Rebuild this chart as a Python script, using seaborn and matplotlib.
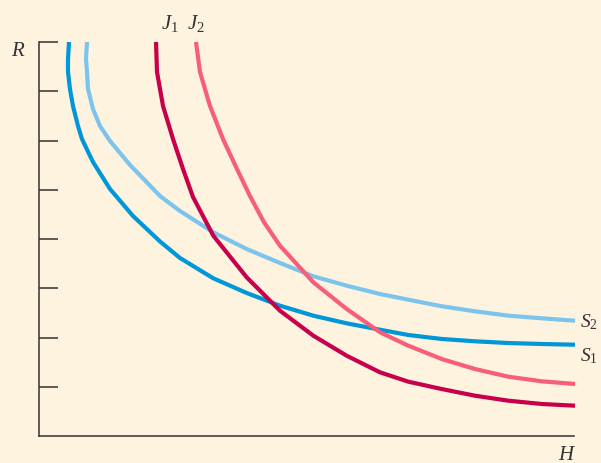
import matplotlib
matplotlib.use("Agg")
import matplotlib.pyplot as plt
import seaborn as sns
import pandas as pd

# Curve readings (H, R) in axis units (one R tick = 1 unit)
s1_h = [0.609, 0.589, 0.589, 0.629, 0.690, 0.792, 0.873, 1.096, 1.442, 1.909, 2.457, 2.863, 3.539, 4.217,
        4.893, 5.570, 6.248, 6.924, 7.499, 8.177, 8.853, 9.529, 10.207, 10.883]
s1_r = [8.0, 7.655, 7.391, 7.046, 6.701, 6.294, 6.030, 5.563, 5.015, 4.467, 3.950, 3.614, 3.202, 2.904,
        2.646, 2.443, 2.288, 2.158, 2.051, 1.970, 1.923, 1.888, 1.868, 1.854]

s2_h = [0.975, 0.954, 0.975, 0.995, 1.096, 1.239, 1.442, 1.848, 2.457, 2.863, 3.539, 4.217, 4.893, 5.570,
        6.248, 6.924, 7.499, 8.177, 8.853, 9.529, 10.207, 10.883]
s2_r = [8.0, 7.655, 7.391, 7.046, 6.640, 6.294, 5.990, 5.503, 4.873, 4.569, 4.136, 3.797, 3.513, 3.243,
        3.052, 2.883, 2.768, 2.634, 2.532, 2.443, 2.390, 2.341]

j1_h = [2.376, 2.396, 2.518, 2.721, 2.924, 3.127, 3.539, 4.217, 4.893, 5.570, 6.248, 6.924, 7.499, 8.177,
        8.853, 9.529, 10.207, 10.883]
j1_r = [8.0, 7.391, 6.701, 6.030, 5.421, 4.853, 4.067, 3.222, 2.544, 2.037, 1.630, 1.293, 1.103, 0.954,
        0.818, 0.717, 0.650, 0.615]

j2_h = [3.188, 3.269, 3.472, 3.736, 4.020, 4.284, 4.569, 4.893, 5.570, 6.248, 6.924, 7.499, 8.177, 8.853,
        9.529, 10.207, 10.883]
j2_r = [8.0, 7.391, 6.701, 6.030, 5.421, 4.873, 4.339, 3.864, 3.121, 2.579, 2.106, 1.834, 1.563, 1.360,
        1.204, 1.111, 1.056]

y_ticks = [1, 2, 3, 4, 5, 6, 7, 8]

bg = "#FEF3DE"
ink = "#333333"
colors = {"S1": "#0097D9", "S2": "#7DC4EC", "J1": "#C8004B", "J2": "#F65E79"}

sns.set_theme(style="ticks")
plt.rcParams["font.family"] = ["Liberation Serif", "DejaVu Serif"]
plt.rcParams["mathtext.fontset"] = "custom"
plt.rcParams["mathtext.it"] = "Liberation Serif:italic"
plt.rcParams["mathtext.rm"] = "Liberation Serif"

fig = plt.figure(figsize=(6.01, 4.64), dpi=100, facecolor=bg)
ax = fig.add_axes([39 / 601, 27 / 464, 535 / 601, 394 / 464])
ax.set_facecolor(bg)

curves = [("S1", s1_h, s1_r), ("S2", s2_h, s2_r), ("J1", j1_h, j1_r), ("J2", j2_h, j2_r)]
for name, h, r in curves:
    df = pd.DataFrame({"H": h, "R": r})
    sns.lineplot(data=df, x="H", y="R", sort=False, estimator=None, color=colors[name],
                 linewidth=3.0, ax=ax, solid_capstyle="butt", solid_joinstyle="round", clip_on=False)

ax.set_xlim(0, 535 / 49.25)
ax.set_ylim(0, 8)
ax.set_xticks([])
ax.set_yticks(y_ticks)
ax.set_yticklabels([])
ax.tick_params(axis="y", direction="in", length=13.5, width=1.1, color=ink)
for side in ["top", "right"]:
    ax.spines[side].set_visible(False)
for side in ["left", "bottom"]:
    ax.spines[side].set_linewidth(1.1)
    ax.spines[side].set_color(ink)
ax.set_xlabel("")
ax.set_ylabel("")

fs = 15
fig.text(18 / 601, 1 - 52 / 464, "$R$", ha="center", va="center", fontsize=fs, color=ink)
fig.text(567 / 601, 1 - 456 / 464, "$H$", ha="center", va="center", fontsize=fs, color=ink)
fig.text(170 / 601, 1 - 23 / 464, "$J_1$", ha="center", va="center", fontsize=fs, color=ink)
fig.text(196 / 601, 1 - 23 / 464, "$J_2$", ha="center", va="center", fontsize=fs, color=ink)
fig.text(580 / 601, 1 - 322 / 464, "$S_2$", ha="left", va="center", fontsize=14, color=ink)
fig.text(580 / 601, 1 - 356 / 464, "$S_1$", ha="left", va="center", fontsize=14, color=ink)

fig.savefig("out.png", dpi=100, facecolor=bg)
